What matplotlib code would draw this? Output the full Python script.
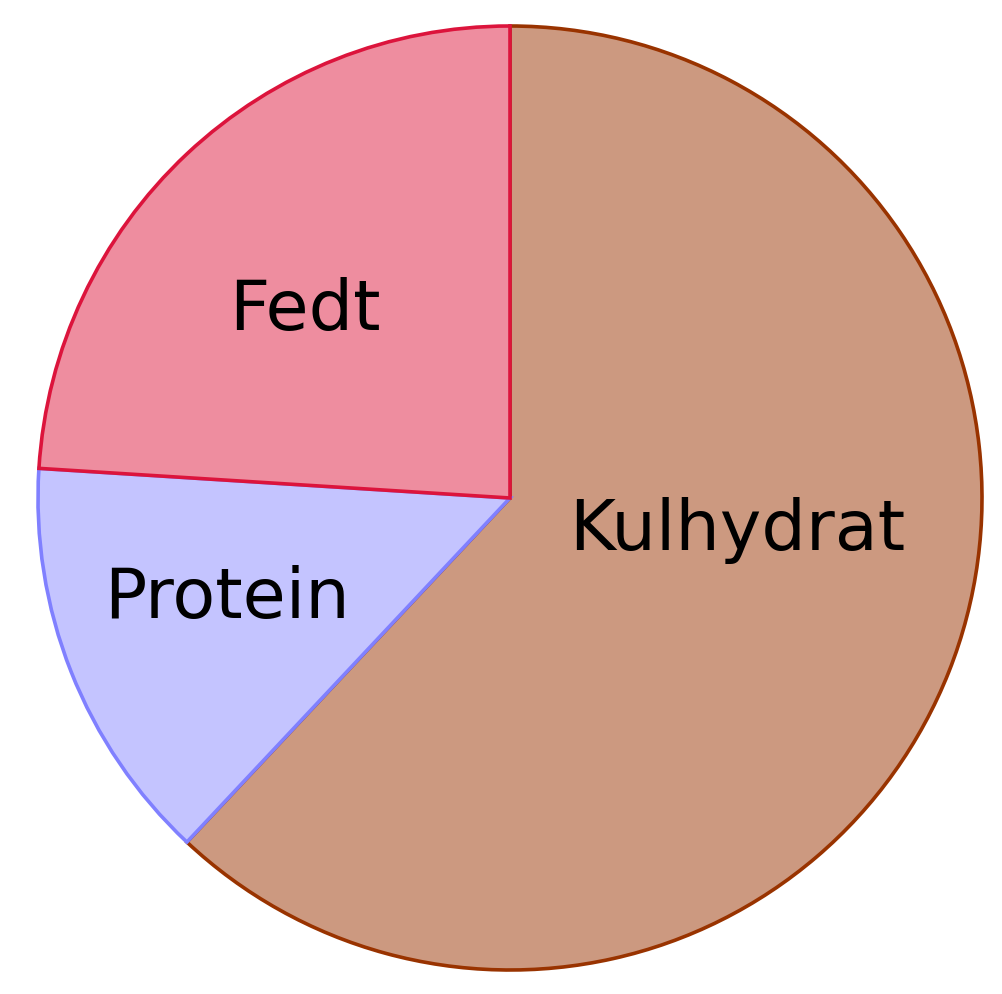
import matplotlib
matplotlib.use("Agg")
import matplotlib.pyplot as plt

labels = ["Kulhydrat", "Protein", "Fedt"]
values = [62, 14, 24]
fills = ["#cc9980", "#c4c4ff", "#ee8d9f"]
edges = ["#993300", "#8080ff", "#dc143c"]

fig = plt.figure(figsize=(10.02, 9.94), dpi=100)
ax = fig.add_axes([0, 0, 1, 1])

wedges, _ = ax.pie(values, colors=fills, startangle=90, counterclock=False,
                   radius=1.0, center=(0, 0), frame=True)
for w, ec in zip(wedges, edges):
    w.set_edgecolor(ec)
    w.set_linewidth(2.6)

# label spots, picked by eye from the reference
label_pos = {"Kulhydrat": (0.481, -0.110), "Protein": (-0.600, -0.254), "Fedt": (-0.434, 0.356)}
for name in labels:
    x, y = label_pos[name]
    ax.text(x, y, name, ha="center", va="baseline", fontsize=50.5, color="black")

ax.set_xlim(-510 / 472, (1002 - 510) / 472)
ax.set_ylim(-496 / 472, 498 / 472)
ax.set_aspect("auto")
ax.axis("off")

fig.savefig("out.png", dpi=100, facecolor="white")
